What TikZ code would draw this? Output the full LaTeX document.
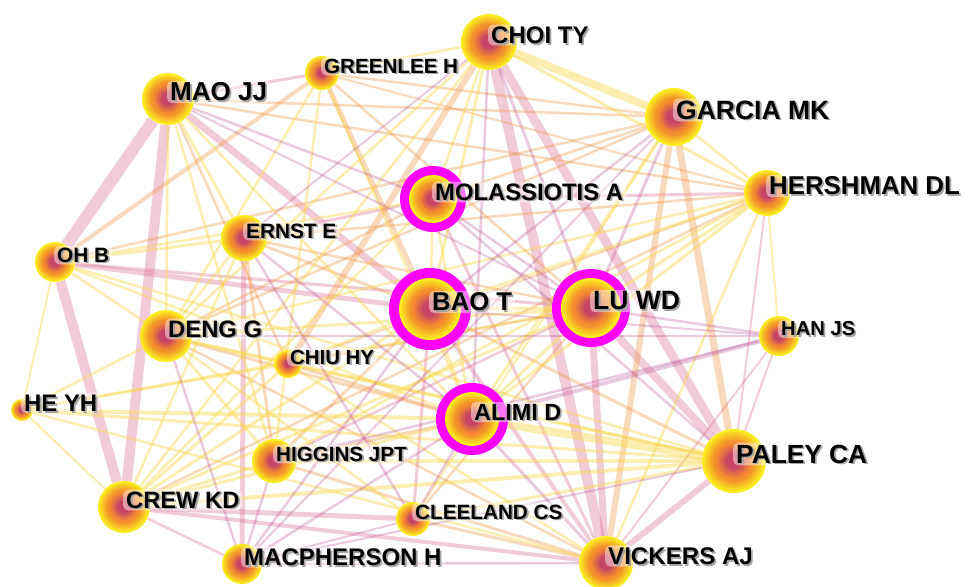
\documentclass[tikz,border=0pt]{standalone}
\usepackage{fontspec}
\setmainfont{Liberation Sans}
\definecolor{ringY}{RGB}{250,236,30}
\definecolor{ringO}{RGB}{244,140,45}
\definecolor{ringC}{RGB}{185,45,120}
\definecolor{halo}{RGB}{255,0,255}
\definecolor{cp}{RGB}{215,110,145}
\definecolor{cy}{RGB}{250,215,70}
\definecolor{co}{RGB}{240,150,70}
\definecolor{cm}{RGB}{185,80,150}
\definecolor{shadowgray}{RGB}{165,165,165}
\tikzset{
  ep/.style={draw=cp, draw opacity=0.35, line cap=butt},
  ey/.style={draw=cy, draw opacity=0.42, line cap=butt},
  eo/.style={draw=co, draw opacity=0.36, line cap=butt},
  em/.style={draw=cm, draw opacity=0.3, line cap=butt},
  anchorpt/.style={circle, inner sep=0pt, draw=none},
  lbl/.style={anchor=west, fill=white, fill opacity=0.45, text opacity=1, text=black,
     rounded corners=5pt, inner xsep=3pt, inner ysep=2pt},
}
\newcommand{\shadowtext}[1]{\rlap{\smash{\kern1.8pt\raisebox{-1.8pt}{\color{shadowgray}#1}}}#1}
\begin{document}
\begin{tikzpicture}[x=1pt,y=-1pt]
\useasboundingbox (0,0) rectangle (968,586);
\fill[white] (0,0) rectangle (968,586);
\def\authorlist{choi/489/42/28/0/24/CHOI TY,
 green/322/73/17/0/20.6/GREENLEE H,
 mao/168/99/26/0/26/MAO JJ,
 garcia/674/117/29/0/26.5/GARCIA MK,
 hersh/767/193/23/0/25.8/HERSHMAN DL,
 mola/433/199/24/33/23.8/MOLASSIOTIS A,
 ernst/244/238/23/0/20.8/ERNST E,
 oh/55/262/20/0/20.8/OH B,
 bao/430/309/31/41/25.7/BAO T,
 lu/591/308/30/39/26.5/LU WD,
 han/779/336/20/0/20.2/HAN JS,
 deng/166/336/26/0/23.8/DENG G,
 chiu/288/364/14/0/20.4/CHIU HY,
 heyh/22/410/11/0/23.9/HE YH,
 alimi/472/419/27/36/23.4/ALIMI D,
 paley/734/461/32/0/26.3/PALEY CA,
 higgins/274/461/22/0/20.6/HIGGINS JPT,
 crew/124/507/26/0/23.7/CREW KD,
 clee/413/519/17/0/20.7/CLEELAND CS,
 macph/242/564/20/0/24/MACPHERSON H,
 vick/606/563/27/0/24.1/VICKERS AJ}
% named anchor nodes
\foreach \n/\x/\y/\r/\h/\f/\t in \authorlist {
  \pgfmathsetmacro\R{max(\r,\h)}
  \node[anchorpt, minimum size=2*\R pt] (\n) at (\x,\y) {};
}
% edges
\foreach \a/\b/\w in {mao/oh/12, mao/crew/10, oh/crew/10, mao/bao/7, choi/vick/10,
  choi/paley/9, lu/paley/8, lu/vick/7, vick/paley/6, ernst/macph/5, crew/clee/5,
  crew/vick/4, oh/bao/5, oh/lu/3, mola/ernst/3, mola/vick/3, bao/vick/4, bao/clee/3,
  lu/higgins/2.5, crew/macph/2.5, han/paley/2, han/vick/2, hersh/paley/2, hersh/mola/3,
  mao/green/3}
  \draw[ep, line width=\w pt] (\a) -- (\b);
\foreach \a/\b/\w in {garcia/vick/6, garcia/paley/7, green/bao/5, green/oh/4, choi/chiu/6,
  mao/garcia/2.5, mao/hersh/2.5, mao/chiu/2.5, green/lu/2.5, green/garcia/2.5, green/hersh/2,
  garcia/mola/2.5, garcia/deng/2.5, garcia/oh/2.5, hersh/crew/2.5, hersh/chiu/2, hersh/ernst/2.5,
  mola/deng/2.5, ernst/bao/3, ernst/lu/2.5, ernst/higgins/3, bao/higgins/3, bao/paley/3,
  lu/chiu/2.5, lu/clee/2.5, deng/alimi/3, deng/vick/2.5, chiu/alimi/3, alimi/higgins/3,
  higgins/vick/3, clee/vick/3}
  \draw[eo, line width=\w pt] (\a) -- (\b);
\foreach \a/\b/\w in {choi/garcia/8, alimi/paley/8, mao/ernst/3, mao/deng/2.5, mao/higgins/2.5,
  mao/alimi/2.5, green/deng/2.5, green/higgins/2.5, green/alimi/2.5, green/choi/2.5,
  choi/mola/2.5, choi/bao/3, choi/hersh/3, choi/deng/2.5, choi/crew/2.5, garcia/alimi/3,
  garcia/hersh/2.5, garcia/clee/2, hersh/bao/3, hersh/lu/3, hersh/alimi/3, hersh/vick/2.5,
  hersh/han/2, hersh/deng/2.5, hersh/higgins/2.5, mola/bao/2.5, mola/oh/2.5, mola/crew/2.5,
  mola/alimi/2.5, ernst/oh/3, ernst/deng/2.5, ernst/crew/2.5, oh/deng/2.5, oh/heyh/2,
  oh/alimi/2.5, oh/paley/2.5, bao/lu/3, bao/alimi/3, bao/crew/3, bao/chiu/2.5, lu/alimi/3,
  lu/deng/3, lu/crew/3, lu/heyh/2.5, deng/chiu/3, deng/higgins/3, deng/paley/3, deng/clee/2.5,
  deng/heyh/2.5, heyh/alimi/4, heyh/paley/3, heyh/crew/2, heyh/chiu/2.5, heyh/vick/2.5,
  chiu/paley/3, chiu/crew/3, chiu/vick/2.5, alimi/crew/3, higgins/crew/3, higgins/paley/4,
  crew/paley/4, clee/paley/3}
  \draw[ey, line width=\w pt] (\a) -- (\b);
\foreach \a/\b/\w in {han/alimi/4, mao/mola/2.5, mao/lu/2, choi/ernst/2, choi/lu/3, choi/alimi/2.5,
  garcia/bao/2.5, garcia/lu/3, garcia/macph/2, mola/lu/2.5, mola/paley/2.5, ernst/alimi/2.5,
  ernst/clee/2.5, bao/macph/2.5, bao/han/2, lu/han/2.5, han/higgins/2.5, han/deng/2,
  deng/macph/2.5, alimi/clee/2.5, alimi/macph/2.5, alimi/vick/3, higgins/macph/2.5,
  clee/macph/2, macph/vick/2.5, macph/paley/2}
  \draw[em, line width=\w pt] (\a) -- (\b);
% tree rings and labels
\foreach \n/\x/\y/\r/\h/\f/\t in \authorlist {
  \ifdim\h pt>0pt
    \fill[halo] (\x,\y) circle[radius=\h pt];
  \fi
  \foreach \i in {0,...,9}{
    \pgfmathsetmacro\rr{\r*(1-0.082*\i)}
    \ifnum\i<5
      \pgfmathtruncatemacro\pc{100-23*\i}
      \fill[ringY!\pc!ringO] (\x,\y) circle[radius=\rr pt];
    \else
      \pgfmathtruncatemacro\pc{100-19*(\i-5)}
      \fill[ringO!\pc!ringC] (\x,\y) circle[radius=\rr pt];
    \fi
  }
  \node[lbl, font=\fontsize{\f}{\f}\selectfont\bfseries] (\n L) at (\x-1,\y-7) {\shadowtext{\t}};
}
\end{tikzpicture}
\end{document}
